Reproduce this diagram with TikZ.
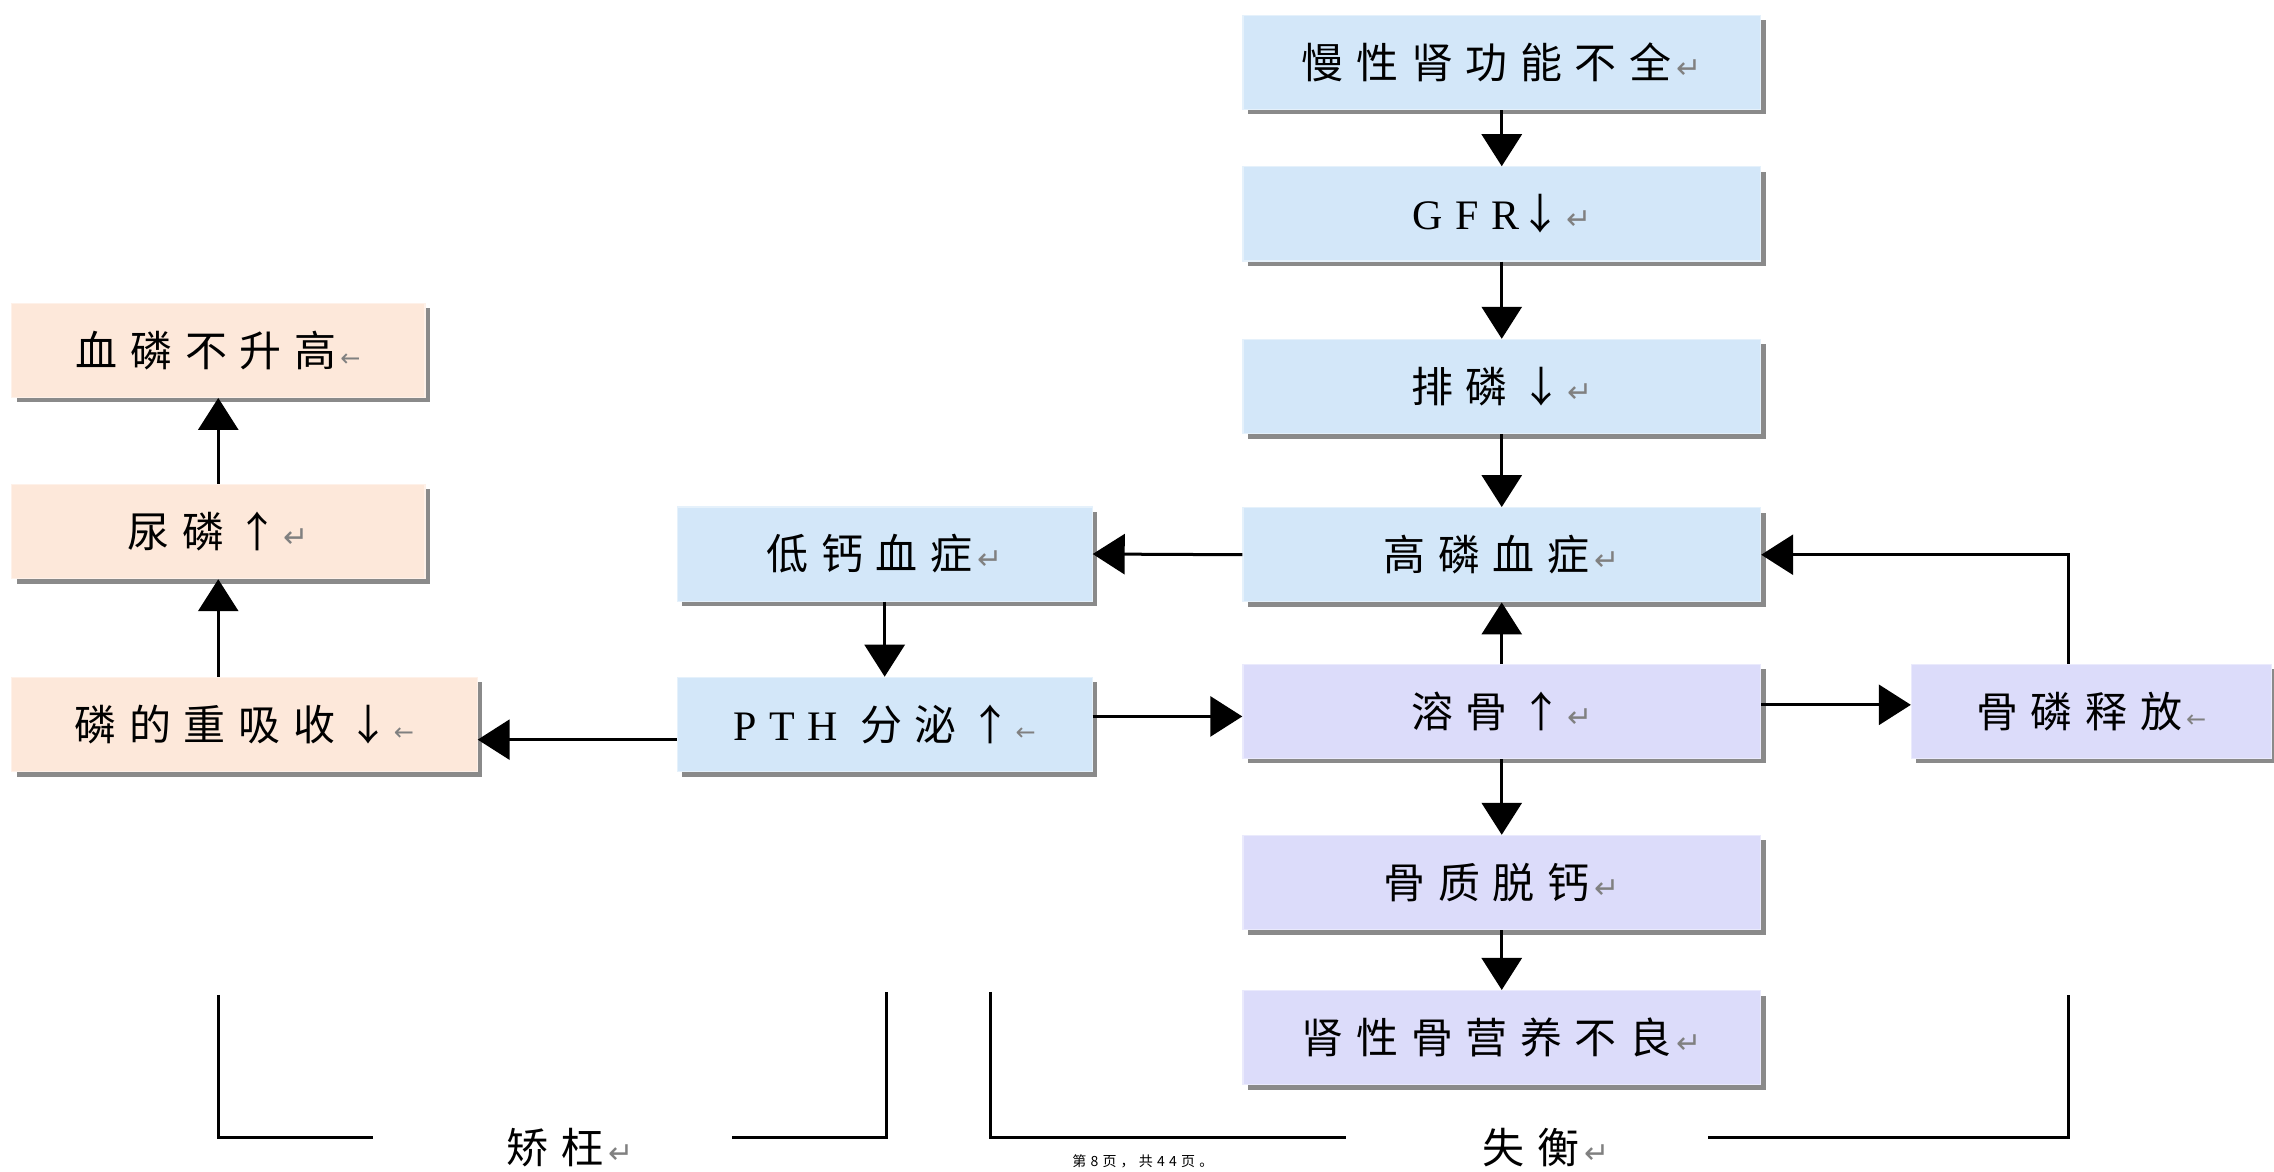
\documentclass[tikz,border=0pt]{standalone}
\usepackage{fontspec}
\newfontfamily\cjk[LetterSpace=30]{Noto Sans CJK SC}
\newfontfamily\lat[LetterSpace=30]{Liberation Serif}
\newfontfamily\dv{DejaVu Sans}
\usetikzlibrary{arrows.meta,shadows}
\definecolor{bfill}{HTML}{D3E7F9}
\definecolor{pfill}{HTML}{FDE8DA}
\definecolor{lfill}{HTML}{DCDCFA}
\definecolor{shd}{HTML}{8A8A8A}
\newcommand{\rt}{{\dv\color{gray}\fontsize{15}{15}\selectfont\,↵}}
\newcommand{\lft}{{\dv\color{gray}\fontsize{12}{12}\selectfont\,←}}
\tikzset{
  boxbase/.style={rectangle, inner sep=0pt, minimum height=47.1pt,
    drop shadow={shadow xshift=2.5pt, shadow yshift=-2.5pt, fill=shd, opacity=1},
    font=\fontsize{21}{24}\selectfont\cjk},
  bluebox/.style={boxbase, fill=bfill, draw=bfill!60!white, line width=0.6pt},
  peachbox/.style={boxbase, fill=pfill, draw=pfill!60!white, line width=0.6pt},
  lavbox/.style={boxbase, fill=lfill, draw=lfill!60!white, line width=0.6pt},
  arr/.style={line width=1.5pt, -{Triangle[length=16pt,width=20pt]}},
  brk/.style={line width=1.5pt},
  lbl/.style={inner sep=0pt, font=\fontsize{21}{24}\selectfont\cjk}
}
\begin{document}
\begin{tikzpicture}[x=0.725pt, y=-0.725pt]
\useasboundingbox (0,0) rectangle (1568,808);
% right column
\node[bluebox, minimum width=258.8pt] (b1) at (1035.5,43) {慢性肾功能不全\rt};
\node[bluebox, minimum width=258.8pt] (b2) at (1035.5,147.5) {{\lat GFR}↓\rt};
\node[bluebox, minimum width=258.8pt] (b3) at (1035.5,266.5) {排磷↓\rt};
\node[bluebox, minimum width=258.8pt] (b4) at (1035.5,382.5) {高磷血症\rt};
\node[lavbox, minimum width=258.8pt] (b5) at (1035.5,490.5) {溶骨↑\rt};
\node[lavbox, minimum width=258.8pt] (b6) at (1035.5,608.5) {骨质脱钙\rt};
\node[lavbox, minimum width=258.8pt] (b7) at (1035.5,715.5) {肾性骨营养不良\rt};
% middle column
\node[bluebox, minimum width=207.4pt] (m1) at (610,382) {低钙血症\rt};
\node[bluebox, minimum width=207.4pt] (m2) at (610,499.5) {{\lat PTH} 分泌↑\lft};
% left column
\node[peachbox, minimum width=206.6pt] (l1) at (150.5,241.5) {血磷不升高\lft};
\node[peachbox, minimum width=206.6pt] (l2) at (150.5,366.5) {尿磷↑\rt};
\node[peachbox, minimum width=232.7pt] (l3) at (168.5,499.5) {磷的重吸收↓\lft};
% far right
\node[lavbox, minimum width=179.8pt] (r1) at (1442,490.5) {骨磷释放\lft};
% arrows
\draw[arr] (b1) -- (b2);
\draw[arr] (b2) -- (b3);
\draw[arr] (b3) -- (b4);
\draw[arr] (b5) -- (b4);
\draw[arr] (b5) -- (b6);
\draw[arr] (b6) -- (b7);
\draw[arr] (b4.west) -- (m1.east);
\draw[arr] (m1) -- (m2);
\draw[arr] (m2.east |- 0,494) -- (b5.west |- 0,494);
\draw[arr] (m2.west |- 0,510) -- (l3.east |- 0,510);
\draw[arr] (l3.north -| l2) -- (l2.south);
\draw[arr] (l2) -- (l1);
\draw[arr] (b5.east |- 0,486) -- (r1.west |- 0,486);
\draw[arr] (r1.north -| 1426,0) |- (b4.east);
% brackets
\draw[brk] (151,686) -- (151,784) -- (257,784);
\draw[brk] (505,784) -- (611,784) -- (611,684);
\draw[brk] (683,684) -- (683,784) -- (928,784);
\draw[brk] (1178,784) -- (1426,784) -- (1426,686);
% labels
\node[lbl] (jw) at (393,791) {矫枉\rt};
\node[lbl] (sh) at (1066,791) {失衡\rt};
\node[inner sep=0pt, font=\fontsize{7}{8}\selectfont\cjk] (ft) at (788,801) {第8页，共44页。};
\end{tikzpicture}
\end{document}
